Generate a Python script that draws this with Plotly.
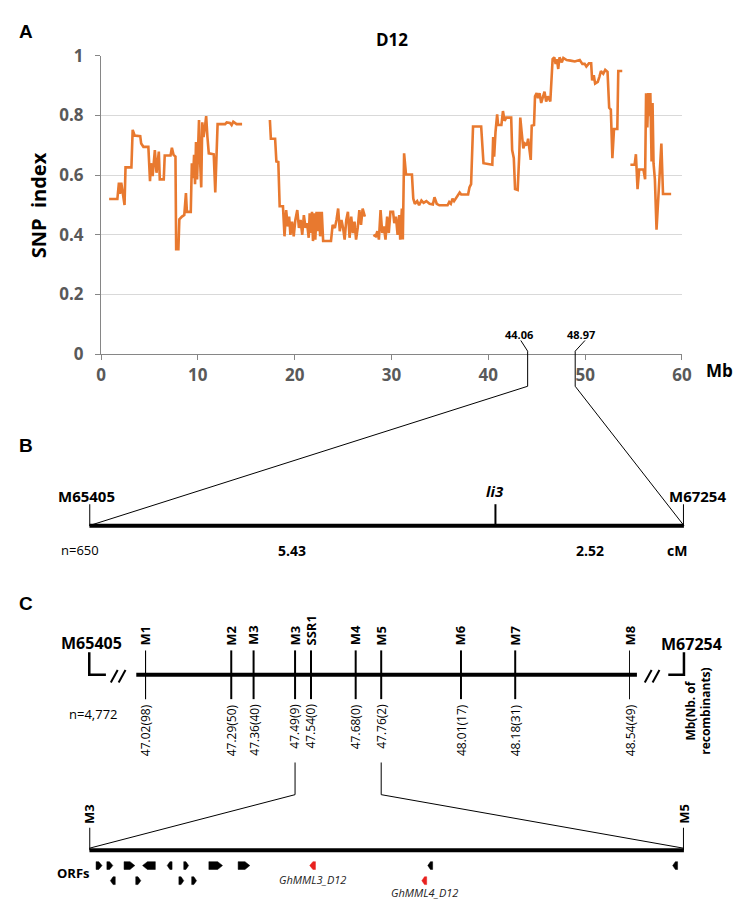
import plotly.graph_objects as go

W, H = 740, 908
FONT = "Open Sans"
ORANGE = "#E8792F"

# ---------------- Panel A: SNP index along chromosome D12 (Mb) ----------------
mb = [0.84, 1.69, 1.85, 1.96, 2.09, 2.26, 2.43, 2.53, 3.14, 3.27, 3.47, 4.05, 4.15, 4.38, 4.89,
      5.06, 5.16, 5.33, 5.46, 5.56, 5.73, 5.97, 6.07, 6.48, 6.58, 7.18, 7.32, 7.49, 7.69, 7.76,
      7.99, 8.09, 8.36, 8.60, 8.77, 8.87, 9.27, 9.38, 9.51, 9.61, 9.71, 9.81, 9.92, 10.02, 10.12,
      10.22, 10.35, 10.46, 10.59, 10.73, 10.86, 10.99, 11.13, 11.64, 11.80, 12.04, 12.82, 12.98,
      13.32, 13.49, 13.66, 14.00, 14.57, None,
      17.44, 17.54, 17.98, 18.11, 18.31, 18.45, 18.79, 18.95, 19.12, 19.29, 19.43, 19.56, 19.73,
      19.90, 20.07, 20.27, 20.44, 20.61, 20.78, 20.95, 21.12, 21.28, 21.45, 21.55, 21.69, 21.79,
      21.89, 22.03, 22.13, 22.26, 22.40, 22.53, 22.63, 22.80, 22.94, 23.75, 23.92, 24.15, 24.32,
      24.49, 24.66, 24.83, 25.00, 25.16, 25.33, 25.50, 25.67, 25.84, 26.01, 26.18, 26.34, 26.51,
      26.68, 26.85, 27.02, 27.25, None,
      28.13, 28.37, 28.54, 28.70, 28.87, 29.04, 29.21, 29.38, 29.55, 29.72, 29.89, 30.16, 30.29,
      30.46, 30.63, 30.80, 30.90, 31.07, 31.17, 31.30, 31.50, 32.11, 32.25, 32.41, 32.65, 32.85,
      33.09, 33.32, 33.60, 33.93, 34.27, 34.44, 34.67, 34.94, 35.79, 35.96, 36.13, 36.30, 36.46,
      36.70, 36.90, 37.04, 37.20, 37.91, 38.05, 38.22, 38.42, 39.26, 39.50, 40.41, 40.50, 40.60,
      40.74, 40.91, 41.01, 41.35, 41.51, 41.68, 41.85, 42.36, 42.46, 42.63, 42.76, 43.03, 43.20,
      43.30, 43.44, 43.61, 43.77, 43.98, 44.11, 44.28, 44.38, 44.48, 44.72, 44.82, 44.99, 45.12,
      45.29, 45.46, 45.63, 45.80, 45.97, 46.14, 46.40, 46.51, 46.64, 46.81, 46.95, 47.08, 47.22,
      47.35, 47.59, 47.75, 48.09, 48.50, 48.93, 49.44, 49.71, 49.95, 50.12, 50.39, 50.62, 50.72,
      50.89, 51.03, 51.30, 51.46, 51.63, 51.87, 52.07, 52.31, 52.48, 52.65, 52.81, 52.98, 53.32,
      53.42, 53.83, None,
      54.67, 55.11, 55.24, 55.41, 55.58, 56.02, 56.19, 56.29, 56.42, 56.52, 56.62, 56.73, 56.86,
      56.96, 57.06, 57.20, 57.37, 57.53, 57.70, 57.87, 58.04, 58.88]
snp = [0.52, 0.52, 0.575, 0.537, 0.575, 0.537, 0.50, 0.626, 0.626, 0.752, 0.733, 0.731, 0.706, 0.695, 0.695,
       0.58, 0.64, 0.597, 0.635, 0.684, 0.608, 0.679, 0.586, 0.586, 0.666, 0.666, 0.692, 0.668, 0.662, 0.352,
       0.352, 0.452, 0.461, 0.466, 0.54, 0.477, 0.477, 0.64, 0.59, 0.668, 0.57, 0.711, 0.586, 0.69, 0.785,
       0.657, 0.559, 0.777, 0.728, 0.76, 0.798, 0.728, 0.673, 0.67, 0.542, 0.771, 0.771, 0.777,
       0.775, 0.768, 0.779, 0.771, 0.771, None,
       0.785, 0.722, 0.722, 0.646, 0.644, 0.496, 0.496, 0.395, 0.483, 0.428, 0.461, 0.40, 0.444,
       0.395, 0.45, 0.483, 0.423, 0.45, 0.40, 0.466, 0.423, 0.439, 0.39, 0.472, 0.406, 0.477,
       0.379, 0.472, 0.384, 0.477, 0.412, 0.477, 0.395, 0.477, 0.379, 0.379, 0.433, 0.423, 0.45,
       0.488, 0.412, 0.45, 0.423, 0.384, 0.45, 0.477, 0.39, 0.461, 0.406, 0.444, 0.384, 0.423,
       0.483, 0.433, 0.488, 0.461, None,
       0.40, 0.395, 0.412, 0.384, 0.483, 0.406, 0.428, 0.384, 0.461, 0.406, 0.477, 0.477, 0.439,
       0.461, 0.40, 0.466, 0.384, 0.488, 0.384, 0.673, 0.602, 0.602, 0.521, 0.504, 0.513, 0.499,
       0.515, 0.507, 0.513, 0.504, 0.502, 0.526, 0.504, 0.499, 0.499, 0.51, 0.504, 0.521, 0.513,
       0.524, 0.532, 0.542, 0.535, 0.535, 0.559, 0.57, 0.763, 0.763, 0.64, 0.635, 0.728, 0.662,
       0.744, 0.804, 0.768, 0.768, 0.815, 0.782, 0.793, 0.793, 0.684, 0.657, 0.553, 0.55, 0.673,
       0.793, 0.744, 0.69, 0.706, 0.70, 0.722, 0.668, 0.651, 0.766, 0.768, 0.864, 0.875, 0.858,
       0.875, 0.842, 0.864, 0.88, 0.847, 0.864, 0.847, 0.913, 0.989, 0.995, 0.973, 0.989, 0.956,
       0.995, 0.978, 0.993, 0.986, 0.984, 0.981, 0.986, 0.973, 0.973, 0.964, 0.975, 0.975, 0.918,
       0.935, 0.907, 0.913, 0.929, 0.949, 0.94, 0.953, 0.946, 0.826, 0.82, 0.657, 0.755, 0.755,
       0.949, 0.949, None,
       0.635, 0.635, 0.67, 0.553, 0.619, 0.619, 0.586, 0.875, 0.76, 0.875, 0.798, 0.875, 0.646,
       0.842, 0.64, 0.586, 0.417, 0.526, 0.635, 0.706, 0.537, 0.537]
a_xticks = [0, 10, 20, 30, 40, 50, 60]
a_yticks = [0, 0.2, 0.4, 0.6, 0.8, 1]
a_ytext = ["0", "0.2", "0.4", "0.6", "0.8", "1"]
region_mb = [44.06, 48.97]
region_labels = ["44.06", "48.97"]

# ---------------- Panel B: genetic map (cM) ----------------
b_markers = ["M65405", "<i>li3</i>", "M67254"]
b_gaps = [5.43, 2.52]
b_cm = [0.0, b_gaps[0], b_gaps[0] + b_gaps[1]]
b_gap_labels = ["5.43", "2.52"]
b_n = "n=650"

# ---------------- Panel C: physical map (Mb, number of recombinants) ----------------
c_markers = ["M1", "M2", "M3", "M3", "SSR1", "M4", "M5", "M6", "M7", "M8"]
c_mb = [47.02, 47.29, 47.36, 47.49, 47.54, 47.68, 47.76, 48.01, 48.18, 48.54]
c_rec = [98, 50, 40, 9, 0, 0, 2, 17, 31, 49]
c_flank = ["M65405", "M67254"]
c_n = "n=4,772"
zoom_idx = [3, 6]   # M3 (47.49) .. M5 (47.76)

# ---------------- ORFs between M3 and M5 (kb from M3) ----------------
orf_start = [3.1, 8.0, 15.8, 24.2, 35.4, 42.9, 54.3, 67.6, 100.1, 153.7, 264.9,
             9.6, 21.1, 40.7, 46.5, 151.0]
orf_end = [5.8, 10.7, 20.7, 30.0, 37.6, 45.1, 60.5, 72.9, 102.7, 155.9, 267.1,
           11.8, 23.4, 42.9, 48.7, 153.2]
orf_strand = ["+", "+", "+", "-", "-", "+", "+", "+", "-", "-", "-",
              "-", "+", "+", "+", "-"]
orf_row = [1, 1, 1, 1, 1, 1, 1, 1, 1, 1, 1, 2, 2, 2, 2, 2]
orf_name = ["", "", "", "", "", "", "", "", "GhMML3_D12", "", "", "", "", "", "", "GhMML4_D12"]


def py(p):
    return 1 - p / H


XA_DOM = [98 / W, 691 / W]
XA_RNG = [0, 60]
YA_DOM = [py(351), py(45)]
XB_DOM = [86 / W, 693 / W]
XB_RNG = [0, b_cm[-1]]
XC_DOM = [143 / W, 638 / W]
XC_RNG = [min(c_mb), max(c_mb)]
XD_DOM = [86 / W, 693 / W]
interval_kb = round((c_mb[zoom_idx[1]] - c_mb[zoom_idx[0]]) * 1000)
XD_RNG = [0, interval_kb]
YD_DOM = [py(899), py(868)]
YD_RNG = [2.5, 0.5]


def to_paper(v, dom, rng):
    return dom[0] + (v - rng[0]) / (rng[1] - rng[0]) * (dom[1] - dom[0])


shapes = []
annotations = []


def seg(points, width=1.0, color="black"):
    d = "M " + " L ".join(f"{x:.5f},{y:.5f}" for x, y in points)
    shapes.append(dict(type="path", path=d, xref="paper", yref="paper",
                       line=dict(color=color, width=width)))


def vline(x, xref, y0, y1, width):
    shapes.append(dict(type="line", xref=xref, yref="paper", x0=x, x1=x, y0=py(y0), y1=py(y1),
                       line=dict(color="black", width=width)))


def hline(x0, x1, xref, y, width):
    shapes.append(dict(type="line", xref=xref, yref="paper", x0=x0, x1=x1, y0=py(y), y1=py(y),
                       line=dict(color="black", width=width)))


def text(t, x, y, xref="paper", size=13, color="black", angle=0, xa="center", ya="middle",
         xshift=0, family=FONT):
    annotations.append(dict(text=t, x=x, y=y, xref=xref, yref="paper", showarrow=False,
                            textangle=angle, xanchor=xa, yanchor=ya, xshift=xshift,
                            font=dict(family=family, size=size, color=color)))


fig = go.Figure()

# Panel A line
fig.add_trace(go.Scatter(x=mb, y=snp, mode="lines", line=dict(color=ORANGE, width=2.6),
                         connectgaps=False, hoverinfo="skip", xaxis="x", yaxis="y"))
# anchor traces for schematic axes
fig.add_trace(go.Scatter(x=b_cm, y=[0.5] * len(b_cm), mode="markers", marker=dict(opacity=0),
                         hoverinfo="skip", xaxis="x2", yaxis="y2"))
fig.add_trace(go.Scatter(x=c_mb, y=[0.5] * len(c_mb), mode="markers", marker=dict(opacity=0),
                         hoverinfo="skip", xaxis="x3", yaxis="y3"))

# ORF glyphs
half = 4 / 31 * 2
for s, e, st, r, nm in zip(orf_start, orf_end, orf_strand, orf_row, orf_name):
    tip = min(0.55 * (e - s), 2.2)
    if st == "+":
        xs = [s, e - tip, e, e - tip, s, s]
    else:
        xs = [e, s + tip, s, s + tip, e, e]
    ys = [r - half, r - half, r, r + half, r + half, r - half]
    col = "#E8211E" if nm else "black"
    fig.add_trace(go.Scatter(x=xs, y=ys, mode="lines", fill="toself", fillcolor=col,
                             line=dict(color=col, width=0.5), hoverinfo="skip",
                             xaxis="x4", yaxis="y4"))
    if nm:
        ylab = 890 if r == 1 else 903
        text(f"<i>{nm}</i>", (s + e) / 2, py(ylab), xref="x4", size=11, color="#222")

# ---- Panel letters ----
for lab, yy in zip(["A", "B", "C"], [20, 445, 607]):
    text(f"<b>{lab}</b>", 21 / W, py(yy), size=19, family="Liberation Sans")

# ---- Panel A decorations ----
text("<b>D12</b>", (XA_DOM[0] + XA_DOM[1]) / 2, py(28), size=17)
text("<b>SNP  index</b>", 35 / W, (YA_DOM[0] + YA_DOM[1]) / 2, size=20, angle=-90)
text("<b>Mb</b>", 729 / W, py(368), size=17)
for v, lab, sh in zip(region_mb, region_labels, [-9, 6]):
    text(f"<b>{lab}</b>", v, py(331), xref="x", size=11, xshift=sh)

xl = to_paper(region_mb[0], XA_DOM, XA_RNG)
xr = to_paper(region_mb[1], XA_DOM, XA_RNG)
b0 = to_paper(b_cm[0], XB_DOM, XB_RNG)
b1 = to_paper(b_cm[-1], XB_DOM, XB_RNG)
seg([(xl - 7 / W, py(337)), (xl, py(348)), (xl, py(384)), (b0, py(527))])
seg([(xr + 10 / W, py(337)), (xr, py(348)), (xr, py(384)), (b1, py(527))])

# ---- Panel B ----
hline(b_cm[0], b_cm[-1], "x2", 527, 4)
for v in b_cm:
    vline(v, "x2", 505, 527, 2)
for v, lab, sh, yy in zip(b_cm, b_markers, [-3, 0, 14], [497, 491, 497]):
    text(f"<b>{lab}</b>", v, py(yy), xref="x2", size=15, xshift=sh)
for i, lab in enumerate(b_gap_labels):
    text(f"<b>{lab}</b>", (b_cm[i] + b_cm[i + 1]) / 2, py(552), xref="x2", size=14)
text(b_n, 77 / W, py(552), size=13)
text("<b>cM</b>", 686 / W, py(552), size=14)

# ---- Panel C ----
c0 = to_paper(c_mb[0], XC_DOM, XC_RNG)
c1 = to_paper(c_mb[-1], XC_DOM, XC_RNG)
shapes.append(dict(type="line", xref="paper", yref="paper", x0=c0 - 9 / W, x1=c1 + 7 / W,
                   y0=py(680), y1=py(680), line=dict(color="black", width=4)))
L = XD_DOM[0]
R = XD_DOM[1]
seg([(L, py(657)), (L, py(680)), (L + 17 / W, py(680))], width=2.5)
seg([(R, py(657)), (R, py(680)), (R - 16 / W, py(680))], width=2.5)
for x0 in [108, 116, 653, 661]:
    seg([(x0 / W, py(688)), ((x0 + 7) / W, py(675))], width=2)
text(f"<b>{c_flank[0]}</b>", 88 / W, py(647), size=16)
text(f"<b>{c_flank[1]}</b>", 701 / W, py(648), size=16)
for v, lab, rec in zip(c_mb, c_markers, c_rec):
    vline(v, "x3", 655, 705, 2)
    text(f"<b>{lab}</b>", v, py(652), xref="x3", size=13, angle=-90, ya="bottom")
    text(f"{v:.2f}({rec})", v, py(708), xref="x3", size=12, angle=-90, ya="top")
text(c_n, 90 / W, py(720), size=13)
text("<b>Mb(Nb. of<br>recombinants)</b>", 707 / W, py(764), size=12, angle=-90, ya="bottom")

# connector C -> ORF panel
d0 = to_paper(0, XD_DOM, XD_RNG)
d1 = to_paper(interval_kb, XD_DOM, XD_RNG)
m3 = to_paper(c_mb[zoom_idx[0]], XC_DOM, XC_RNG)
m5 = to_paper(c_mb[zoom_idx[1]], XC_DOM, XC_RNG)
seg([(m3, py(770)), (m3, py(803)), (d0, py(858))])
seg([(m5, py(770)), (m5, py(803)), (d1, py(858))])

# ---- ORF panel ----
hline(0, interval_kb, "x4", 860, 4)
for v, lab in zip([0, interval_kb], [c_markers[zoom_idx[0]], c_markers[zoom_idx[1]]]):
    vline(v, "x4", 837, 860, 2)
    text(f"<b>{lab}</b>", v, py(835), xref="x4", size=13, angle=-90, ya="bottom")
text("<b>ORFs</b>", 70 / W, py(883), size=13)

grey = "#868686"
tickfont = dict(family=FONT, size=17, color="#595959", weight="bold")
fig.update_layout(
    width=W, height=H, margin=dict(l=0, r=0, t=0, b=0),
    paper_bgcolor="white", plot_bgcolor="white", showlegend=False,
    shapes=shapes, annotations=annotations,
    xaxis=dict(domain=XA_DOM, range=XA_RNG, tickvals=a_xticks, ticks="outside", ticklen=5,
               tickcolor=grey, showline=True, linecolor=grey, linewidth=1.3, showgrid=False,
               zeroline=False, tickfont=tickfont, anchor="y", fixedrange=True),
    yaxis=dict(domain=YA_DOM, range=[0, 1], tickvals=a_yticks, ticktext=a_ytext, ticks="outside",
               ticklen=5, tickcolor=grey, showline=True, linecolor=grey, linewidth=1.3,
               showgrid=True, gridcolor="#d9d9d9", gridwidth=1, zeroline=False,
               tickfont=tickfont, ticklabelstandoff=8, anchor="x", fixedrange=True),
    xaxis2=dict(domain=XB_DOM, range=XB_RNG, visible=False, anchor="y2"),
    yaxis2=dict(domain=[0.35, 0.45], range=[0, 1], visible=False, anchor="x2"),
    xaxis3=dict(domain=XC_DOM, range=XC_RNG, visible=False, anchor="y3"),
    yaxis3=dict(domain=[0.2, 0.3], range=[0, 1], visible=False, anchor="x3"),
    xaxis4=dict(domain=XD_DOM, range=XD_RNG, visible=False, anchor="y4"),
    yaxis4=dict(domain=YD_DOM, range=YD_RNG, visible=False, anchor="x4"),
)

fig.write_html("out.html", config={"displayModeBar": False},
               post_script="document.body.style.margin='0';document.body.style.overflow='hidden';")
